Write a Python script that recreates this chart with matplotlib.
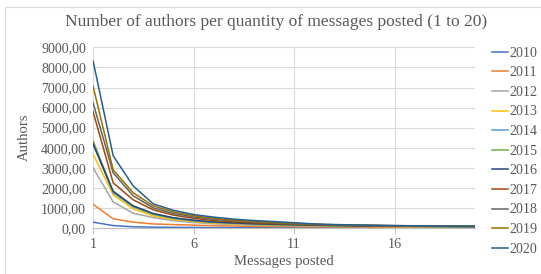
import matplotlib.pyplot as plt
from matplotlib.ticker import FuncFormatter, FixedLocator
from matplotlib.patches import Rectangle

plt.rcParams['font.family'] = ['Liberation Serif', 'DejaVu Serif']

messages = list(range(1, 21))
years = ['2010', '2011', '2012', '2013', '2014', '2015', '2016', '2017', '2018', '2019', '2020']
colors = ['#4472C4', '#ED7D31', '#A5A5A5', '#FFC000', '#5B9BD5', '#70AD47',
          '#264478', '#9E480E', '#636363', '#997300', '#255E91']

a2010 = [290, 120, 60, 40, 30, 25, 20, 18, 15, 14, 12, 11, 10, 9, 8, 8, 7, 6, 6, 5]
a2011 = [1180, 460, 290, 200, 170, 140, 115, 95, 80, 70, 60, 55, 50, 45, 40, 38, 35, 32, 30, 28]
a2012 = [3000, 1300, 730, 520, 360, 270, 210, 170, 140, 120, 105, 95, 85, 78, 70, 62, 58, 52, 48, 45]
a2013 = [3680, 1650, 950, 600, 420, 320, 250, 200, 170, 150, 130, 115, 100, 90, 82, 75, 70, 64, 60, 55]
a2014 = [4200, 1750, 1050, 680, 470, 355, 280, 230, 190, 165, 145, 125, 110, 100, 92, 84, 78, 72, 66, 62]
a2015 = [4350, 1800, 1080, 700, 490, 370, 290, 240, 200, 175, 150, 130, 118, 105, 96, 88, 80, 74, 68, 64]
a2016 = [4190, 1830, 1100, 720, 510, 385, 300, 250, 210, 185, 160, 140, 125, 110, 100, 92, 85, 78, 72, 68]
a2017 = [5800, 2250, 1400, 900, 640, 480, 370, 300, 250, 215, 185, 160, 140, 125, 115, 105, 96, 88, 82, 76]
a2018 = [6240, 2750, 1600, 1000, 720, 550, 430, 350, 290, 250, 210, 175, 150, 135, 120, 110, 100, 92, 85, 80]
a2019 = [7070, 2900, 1750, 1100, 800, 610, 480, 390, 320, 280, 230, 190, 160, 140, 128, 115, 105, 96, 90, 84]
a2020 = [8330, 3600, 2090, 1200, 880, 670, 540, 440, 370, 320, 260, 200, 170, 150, 135, 120, 110, 100, 95, 90]
series = [a2010, a2011, a2012, a2013, a2014, a2015, a2016, a2017, a2018, a2019, a2020]

fig = plt.figure(figsize=(5.41, 2.74), dpi=100)
ax = fig.add_axes([0.172, 0.168, 0.706, 0.659])

for y, vals, c in zip(years, series, colors):
    ax.plot(messages, vals, color=c, lw=1.1, label=y)

ax.set_xlim(1, 20)
ax.set_ylim(0, 9000)
ax.set_yticks(range(0, 9001, 1000))
ax.yaxis.set_major_formatter(FuncFormatter(lambda v, p: f'{v:.2f}'.replace('.', ',')))
ax.xaxis.set_major_locator(FixedLocator([1, 6, 11, 16]))
ax.grid(True, color='#D9D9D9', lw=0.8)
ax.set_axisbelow(True)
for s in ['top', 'right', 'left']:
    ax.spines[s].set_visible(False)
ax.spines['bottom'].set_color('#BFBFBF')
ax.tick_params(axis='y', length=0, labelsize=10.1, colors='#595959', pad=5)
ax.tick_params(axis='x', length=4, color='#BFBFBF', labelsize=10.1, colors='#595959')

fig.text(0.510, 0.92, 'Number of authors per quantity of messages posted (1 to 20)',
         fontsize=12.5, color='#595959', ha='center', va='center')
ax.set_xlabel('Messages posted', fontsize=10.6, color='#595959')
ax.set_ylabel('Authors', fontsize=10.6, color='#595959')
ax.xaxis.set_label_coords(0.5, -0.15)
ax.yaxis.set_label_coords(-0.162, 0.505)

leg = ax.legend(loc='upper left', bbox_to_anchor=(1.045, 1.004), frameon=False,
                fontsize=10.1, handlelength=1.15, handletextpad=0.1,
                labelspacing=0.47, borderaxespad=0, borderpad=0)
for t in leg.get_texts():
    t.set_color('#595959')

fig.patches.append(Rectangle((0.009, -0.1), 1.2, 0.1 + 0.974, transform=fig.transFigure,
                             fill=False, edgecolor='#D9D9D9', lw=0.8))

fig.savefig('out.png', dpi=100)
